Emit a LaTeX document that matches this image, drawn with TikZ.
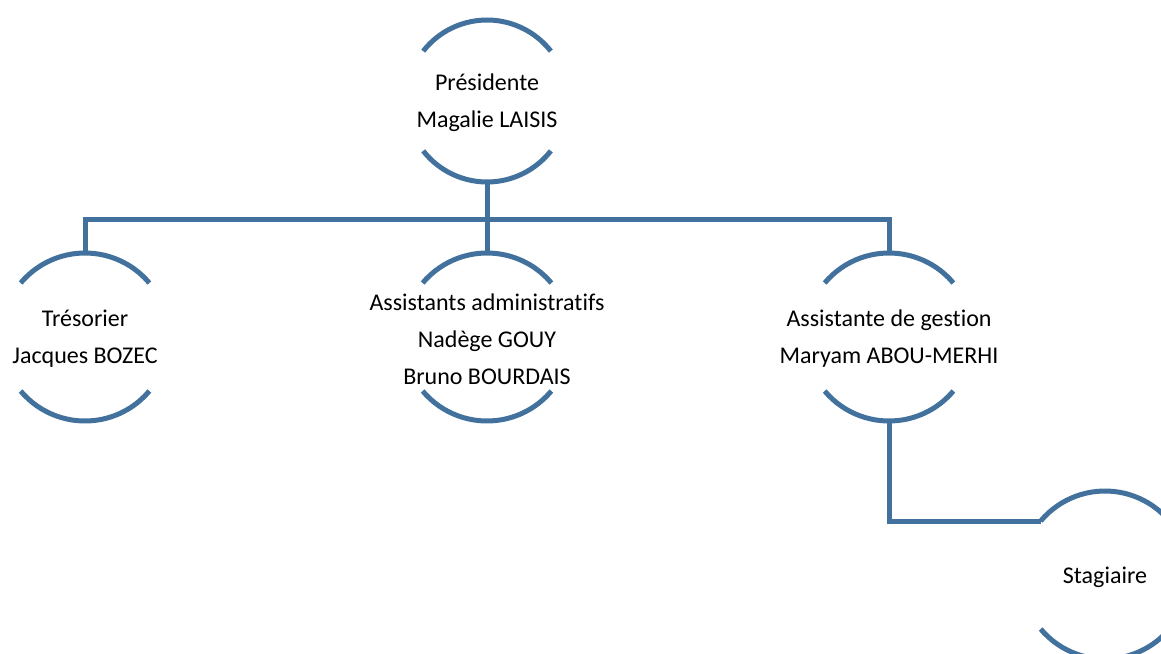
\documentclass[tikz,border=0pt]{standalone}
\usepackage{fontspec}
\setmainfont{Carlito}[Ligatures=NoCommon]
\usepackage[HTML]{xcolor}
\usepackage{tikz}
\usetikzlibrary{positioning}
\definecolor{orgblue}{HTML}{41719C}

\begin{document}
\begin{tikzpicture}[x=1pt, y=-1pt,
  member/.style={circle, minimum size=#1, inner sep=0pt, outer sep=0pt},
  who/.style={align=center, font=\fontsize{24}{37}\selectfont, yshift=-2pt},
  link/.style={orgblue, line width=5pt}]
\useasboundingbox (0,0) rectangle (1161,653);
\clip (0,0) rectangle (1161,653);

% people
\node[member=162pt, label={[who]center:Présidente\\Magalie LAISIS}] (pres) at (487,101) {};
\node[member=168pt, label={[who]center:Trésorier\\Jacques BOZEC}] (treso) at (85,337) {};
\node[member=168pt, label={[who]center:Assistants administratifs\\Nadège GOUY\\Bruno BOURDAIS}] (asst) at (487,337) {};
\node[member=168pt, label={[who]center:Assistante de gestion\\Maryam ABOU-MERHI}] (gest) at (889,337) {};
\node[member=168pt, label={[who]center:Stagiaire}] (stag) at (1105,575) {};

% open circles: top and bottom arcs only
\draw[link] (pres.142) arc[start angle=142, end angle=38, radius=81pt];
\draw[link] (pres.218) arc[start angle=218, end angle=322, radius=81pt];
\foreach \n in {treso, asst, gest, stag} {
  \draw[link] (\n.140) arc[start angle=140, end angle=40, radius=84pt];
  \draw[link] (\n.220) arc[start angle=220, end angle=320, radius=84pt];
}

% connectors
\draw[link] (pres.south) -- (asst.north);
\draw[link] (treso.north) -- ++(0,-34) -| (gest.north);
\draw[link] (gest.south) |- (stag.140);
\end{tikzpicture}
\end{document}
